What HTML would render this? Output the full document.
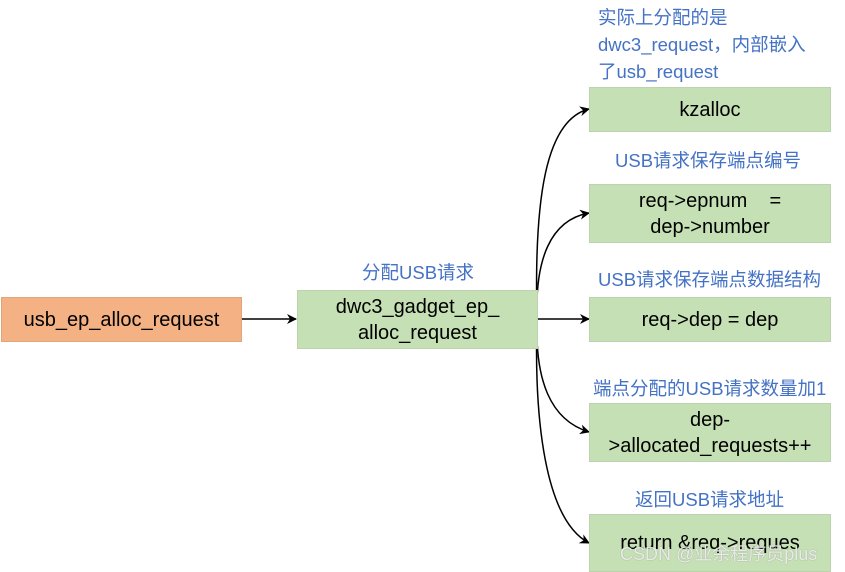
<!DOCTYPE html>
<html><head><meta charset="utf-8"><style>
body{margin:0;width:845px;height:572px;background:#fff;position:relative;overflow:hidden;font-family:"Liberation Sans","Noto Sans CJK SC",sans-serif}
.b{position:absolute;background:#C5E0B4;border:1px solid #bcd3ad;box-sizing:border-box;display:flex;align-items:center;justify-content:center;text-align:center;font-size:20px;line-height:26px;color:#000}
.l{position:absolute;color:#4472C4;font-size:18.5px;white-space:nowrap;line-height:24px}
</style></head><body>
<svg width="845" height="572" style="position:absolute;left:0;top:0">
<defs><marker id="a" markerWidth="10" markerHeight="10" refX="9" refY="5" orient="auto" markerUnits="userSpaceOnUse"><path d="M0,0 L10,5 L0,10 L3,5z" fill="#000"/></marker></defs>
<g stroke="#000" stroke-width="1.5" fill="none" marker-end="url(#a)">
<line x1="241" y1="319" x2="296" y2="319"/>
<line x1="537" y1="319" x2="589" y2="319"/>
<path d="M537,319 C534,200 545,120 589,109"/>
<path d="M537,319 C535,260 550,220 589,213"/>
<path d="M537,319 C535,380 550,420 589,432"/>
<path d="M537,319 C534,420 545,520 589,543"/>
</g></svg>
<div class="b" style="left:1px;top:297px;width:241px;height:45px;background:#F4B183;border-color:#e0a57a">usb_ep_alloc_request</div>
<div class="b" style="left:297px;top:290px;width:241px;height:59px">dwc3_gadget_ep_<br>alloc_request</div>
<div class="b" style="left:589px;top:87px;width:242px;height:45px">kzalloc</div>
<div class="b" style="left:589px;top:184px;width:242px;height:59px">req-&gt;epnum &nbsp;&nbsp; =<br>dep-&gt;number</div>
<div class="b" style="left:589px;top:297px;width:242px;height:45px">req-&gt;dep = dep</div>
<div class="b" style="left:589px;top:403px;width:242px;height:59px">dep-<br>&gt;allocated_requests++</div>
<div class="b" style="left:589px;top:514px;width:242px;height:58px">return &amp;req-&gt;reques</div>
<div class="l" style="left:362px;top:261px">分配USB请求</div>
<div class="l" style="left:598px;top:4px;line-height:27px">实际上分配的是<br>dwc3_request，内部嵌入<br>了usb_request</div>
<div class="l" style="left:615px;top:149px">USB请求保存端点编号</div>
<div class="l" style="left:598px;top:268px">USB请求保存端点数据结构</div>
<div class="l" style="left:593px;top:377px">端点分配的USB请求数量加1</div>
<div class="l" style="left:635px;top:488px">返回USB请求地址</div>
<div style="position:absolute;left:620px;top:540px;color:rgba(255,255,255,0.8);font-size:18px;text-shadow:0 0 1px #888">CSDN @业余程序员plus</div>
</body></html>
